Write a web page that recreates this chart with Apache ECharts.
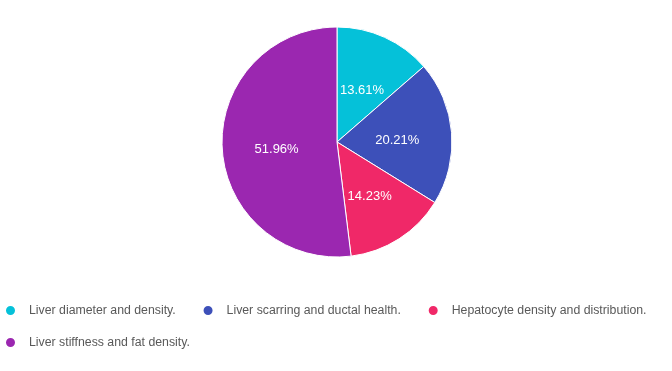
<!DOCTYPE html>
<html><head><meta charset="utf-8">
<script src="https://cdn.jsdelivr.net/npm/echarts@6/dist/echarts.min.js"></script>
<style>html,body{margin:0;padding:0;background:#fff}#c{width:672px;height:371px}</style>
</head><body><div id="c"></div>
<script>
const categories = ["Liver diameter and density.", "Liver scarring and ductal health.", "Hepatocyte density and distribution.", "Liver stiffness and fat density."];
const values = [13.61, 20.21, 14.23, 51.96];
const colors = ["#05c1d9", "#3d50b9", "#f02868", "#9b27b0"];

const chart = echarts.init(document.getElementById('c'));
chart.setOption({
  animation: false,
  color: colors,
  legend: {
    left: 4, top: 304, width: 668, padding: 0,
    icon: 'circle', itemWidth: 25, itemHeight: 11, itemGap: 19,
    formatter: name => name + '  ',
    textStyle: { fontFamily: 'Liberation Sans, Arial, sans-serif', fontSize: 12.3, color: '#595959', padding: [0, 0, 0, 1] },
    data: categories
  },
  series: [{
    type: 'pie',
    center: [337, 142],
    radius: 115,
    startAngle: 90,
    itemStyle: { borderColor: '#fff', borderWidth: 1 },
    label: {
      position: 'inside',
      color: '#fff',
      fontFamily: 'Liberation Sans, Arial, sans-serif',
      fontSize: 13,
      formatter: p => '{s|}\n{v|' + p.value.toFixed(2) + '%}',
      rich: {
        s: { lineHeight: 7, fontSize: 1 },
        v: { color: '#fff', fontSize: 13, fontFamily: 'Liberation Sans, Arial, sans-serif', lineHeight: 16 }
      }
    },
    labelLine: { show: false },
    data: categories.map((n, i) => ({ name: n, value: values[i] }))
  }]
});
</script></body></html>
